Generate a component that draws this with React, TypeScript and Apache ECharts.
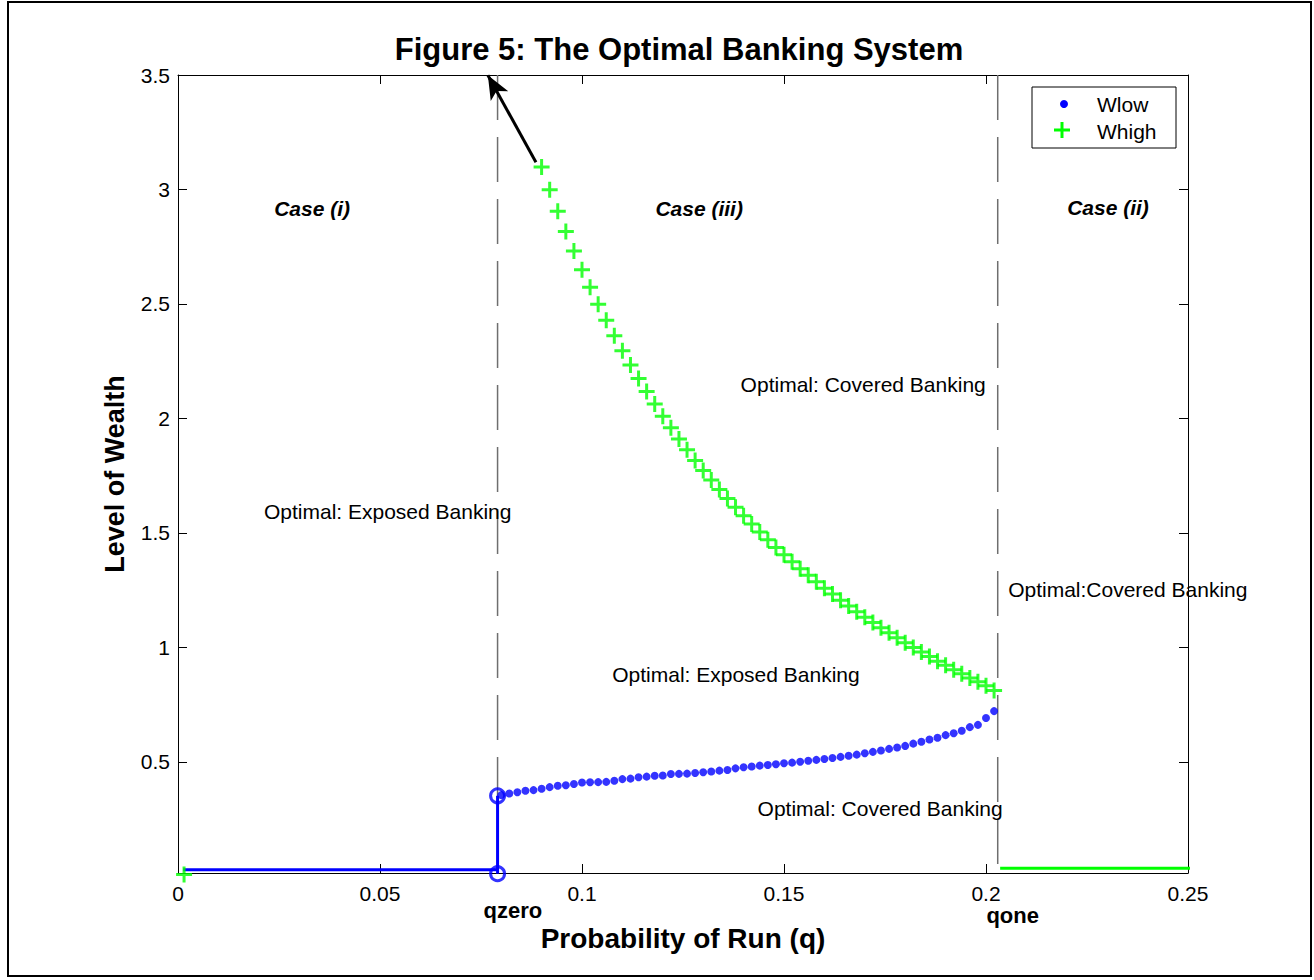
import React, { useEffect, useRef } from "react";
import * as echarts from "echarts";

const FONT = '"Liberation Sans", Arial, Helvetica, sans-serif';

// Probability of a run (q) on which each wealth level was solved
const qLow = [
  0.08, 0.082, 0.084, 0.086, 0.088, 0.09, 0.092, 0.094, 0.096, 0.098,
  0.1, 0.102, 0.104, 0.106, 0.108, 0.11, 0.112, 0.114, 0.116, 0.118,
  0.12, 0.122, 0.124, 0.126, 0.128, 0.13, 0.132, 0.134, 0.136, 0.138,
  0.14, 0.142, 0.144, 0.146, 0.148, 0.15, 0.152, 0.154, 0.156, 0.158,
  0.16, 0.162, 0.164, 0.166, 0.168, 0.17, 0.172, 0.174, 0.176, 0.178,
  0.18, 0.182, 0.184, 0.186, 0.188, 0.19, 0.192, 0.194, 0.196, 0.198,
  0.2, 0.202,
];
const wLow = [
  0.355, 0.362, 0.368, 0.374, 0.377, 0.383, 0.39, 0.396, 0.398, 0.404,
  0.41, 0.411, 0.412, 0.413, 0.418, 0.425, 0.427, 0.433, 0.436, 0.44,
  0.441, 0.447, 0.448, 0.449, 0.452, 0.455, 0.458, 0.462, 0.465, 0.472,
  0.477, 0.48, 0.484, 0.487, 0.49, 0.494, 0.497, 0.501, 0.505, 0.509,
  0.513, 0.517, 0.522, 0.527, 0.532, 0.538, 0.544, 0.55, 0.557, 0.563,
  0.57, 0.58, 0.588, 0.598, 0.606, 0.617, 0.625, 0.636, 0.652, 0.662,
  0.692, 0.722,
];

const qHigh = [
  0.0015,
  0.09, 0.092, 0.094, 0.096, 0.098, 0.1, 0.102, 0.104, 0.106, 0.108,
  0.11, 0.112, 0.114, 0.116, 0.118, 0.12, 0.122, 0.124, 0.126, 0.128,
  0.13, 0.132, 0.134, 0.136, 0.138, 0.14, 0.142, 0.144, 0.146, 0.148,
  0.15, 0.152, 0.154, 0.156, 0.158, 0.16, 0.162, 0.164, 0.166, 0.168,
  0.17, 0.172, 0.174, 0.176, 0.178, 0.18, 0.182, 0.184, 0.186, 0.188,
  0.19, 0.192, 0.194, 0.196, 0.198, 0.2, 0.202,
];
const wHigh = [
  0.008,
  3.098, 2.999, 2.905, 2.816, 2.731, 2.65, 2.573, 2.499, 2.429, 2.361,
  2.296, 2.234, 2.175, 2.118, 2.063, 2.01, 1.959, 1.91, 1.863, 1.817,
  1.773, 1.731, 1.69, 1.65, 1.612, 1.575, 1.539, 1.504, 1.47, 1.437,
  1.405, 1.374, 1.344, 1.315, 1.287, 1.259, 1.233, 1.206, 1.181, 1.156,
  1.132, 1.109, 1.086, 1.064, 1.042, 1.021, 1.0, 0.98, 0.96, 0.94,
  0.922, 0.903, 0.885, 0.867, 0.85, 0.833, 0.812,
];

// Thresholds and corner solutions
const qZero = 0.0791;
const qOne = 0.2029;
const lowFloor = [0.0013, 0.029]; // start of Wlow floor
const lowJump = [0.012, 0.352]; // Wlow at qzero: bottom and top
const highFloor = [0.2035, 0.2517, 0.036]; // q from, q to, level

// Arrow: Whigh continues above the plotted range
const arrowFrom = [0.0886, 3.119];
const arrowHead = [0.0767, 3.499];

const xTicks = [0, 0.05, 0.1, 0.15, 0.2, 0.25];
const yTicks = [0.5, 1, 1.5, 2, 2.5, 3, 3.5];

const notes = [
  { text: "Case (i)", at: [0.0332, 2.917], kind: "case" },
  { text: "Case (iii)", at: [0.129, 2.917], kind: "case" },
  { text: "Case (ii)", at: [0.2302, 2.921], kind: "case" },
  { text: "Optimal: Covered Banking", at: [0.1696, 2.149], kind: "plain" },
  { text: "Optimal: Exposed Banking", at: [0.0519, 1.595], kind: "plain" },
  { text: "Optimal:Covered Banking", at: [0.2351, 1.255], kind: "plain" },
  { text: "Optimal: Exposed Banking", at: [0.1381, 0.884], kind: "plain" },
  { text: "Optimal: Covered Banking", at: [0.1738, 0.295], kind: "plain" },
  { text: "qzero", at: [0.0829, -0.15], kind: "mark" },
  { text: "qone", at: [0.2066, -0.172], kind: "mark" },
];

const PLUS = "path://M6.5,0H9.5V6.5H16V9.5H9.5V16H6.5V9.5H0V6.5H6.5Z";
const BLUE = "#0000ff";
const GREEN = "#00ff00";

const fmt = (v: number) => String(Number(v.toFixed(2)));

export default function App() {
  const ref = useRef<HTMLDivElement>(null);

  useEffect(() => {
    if (!ref.current) return;
    const chart = echarts.init(ref.current, null, { renderer: "svg" });

    const noteStyle = (kind: string) =>
      kind === "case"
        ? { fontSize: 21, fontWeight: "bold", fontStyle: "italic" }
        : kind === "mark"
        ? { fontSize: 22, fontWeight: "bold", fontStyle: "normal" }
        : { fontSize: 21, fontWeight: "normal", fontStyle: "normal" };

    const tickAxis = {
      axisLine: { show: true, onZero: false, lineStyle: { color: "#000", width: 1 } },
      axisTick: { show: true, inside: true, length: 9, lineStyle: { color: "#000" } },
      splitLine: { show: false },
    };

    const boundary = (q: number) => ({
      type: "line",
      data: [
        [q, 3.5],
        [q, -0.02],
      ],
      symbol: "none",
      clip: false,
      silent: true,
      lineStyle: { color: "#6e6e6e", width: 1.5, type: [45, 17] },
      z: 1,
    });

    const option: any = {
      animation: false,
      backgroundColor: "#fff",
      textStyle: { fontFamily: FONT, color: "#000" },
      title: {
        text: "Figure 5: The Optimal Banking System",
        left: 679,
        top: 34,
        padding: 0,
        textAlign: "center",
        textStyle: { fontFamily: FONT, fontSize: 31, fontWeight: "bold", color: "#000" },
      },
      grid: { left: 178, top: 75, width: 1010, height: 798, containLabel: false },
      xAxis: [
        {
          type: "value",
          position: "bottom",
          min: 0,
          max: 0.25,
          interval: 0.05,
          ...tickAxis,
          axisLabel: {
            show: true,
            margin: 10,
            fontSize: 21,
            color: "#000",
            fontFamily: FONT,
            formatter: (v: number) => fmt(v),
          },
          name: "Probability of Run (q)",
          nameLocation: "middle",
          nameGap: 51,
          nameTextStyle: { fontFamily: FONT, fontSize: 28, fontWeight: "bold", color: "#000" },
        },
        {
          type: "value",
          position: "top",
          min: 0,
          max: 0.25,
          interval: 0.05,
          ...tickAxis,
          axisLabel: { show: false },
        },
      ],
      yAxis: [
        {
          type: "value",
          position: "left",
          min: 0.015,
          max: 3.5,
          ...tickAxis,
          axisTick: { ...tickAxis.axisTick, customValues: yTicks },
          axisLabel: {
            show: true,
            customValues: yTicks,
            margin: 8,
            fontSize: 21,
            color: "#000",
            fontFamily: FONT,
            formatter: (v: number) => fmt(v),
          },
          name: "Level of Wealth",
          nameLocation: "middle",
          nameGap: 50,
          nameTextStyle: { fontFamily: FONT, fontSize: 27, fontWeight: "bold", color: "#000" },
        },
        {
          type: "value",
          position: "right",
          min: 0.015,
          max: 3.5,
          ...tickAxis,
          axisTick: { ...tickAxis.axisTick, customValues: yTicks },
          axisLabel: { show: false },
        },
      ],
      series: [
        // regime boundaries
        boundary(qZero),
        boundary(qOne),
        // Wlow floor and jump at qzero
        {
          type: "line",
          data: [
            [lowFloor[0], lowFloor[1]],
            [qZero, lowFloor[1]],
          ],
          symbol: "none",
          clip: false,
          lineStyle: { color: BLUE, width: 3 },
          z: 3,
        },
        {
          type: "line",
          data: [
            [qZero, lowJump[0]],
            [qZero, lowJump[1]],
          ],
          symbol: "none",
          clip: false,
          lineStyle: { color: BLUE, width: 3 },
          z: 3,
        },
        {
          type: "scatter",
          data: [
            [qZero, lowJump[1]],
            [qZero, lowJump[0]],
          ],
          symbol: "circle",
          symbolSize: 14,
          clip: false,
          itemStyle: { color: "rgba(0,0,0,0)", borderColor: BLUE, borderWidth: 3 },
          z: 4,
        },
        // Whigh floor beyond qone
        {
          type: "line",
          data: [
            [highFloor[0], highFloor[2]],
            [highFloor[1], highFloor[2]],
          ],
          symbol: "none",
          clip: false,
          lineStyle: { color: GREEN, width: 3 },
          z: 3,
        },
        {
          name: "Wlow",
          type: "scatter",
          data: qLow.map((q, i) => [q, wLow[i]]),
          symbol: "circle",
          symbolSize: 8,
          itemStyle: { color: BLUE },
          z: 5,
        },
        {
          name: "Whigh",
          type: "scatter",
          data: qHigh.map((q, i) => [q, wHigh[i]]),
          symbol: PLUS,
          symbolSize: 16,
          clip: false,
          itemStyle: { color: GREEN },
          z: 5,
        },
        // arrow pointing past the top of the axes
        {
          type: "line",
          clip: false,
          silent: true,
          showSymbol: true,
          lineStyle: { color: "#000", width: 3 },
          itemStyle: { color: "#000", borderWidth: 0 },
          data: [
            { value: arrowFrom, symbol: "none" },
            { value: arrowHead, symbol: "arrow", symbolSize: [15, 24], symbolRotate: 29 },
          ],
          z: 7,
        },
        // text annotations
        {
          type: "scatter",
          symbolSize: 0,
          clip: false,
          silent: true,
          itemStyle: { color: "#000", opacity: 0 },
          z: 6,
          data: notes.map((n) => ({
            name: n.text,
            value: n.at,
            label: {
              show: true,
              position: "inside",
              formatter: n.text,
              color: "#000",
              opacity: 1,
              textBorderWidth: 0,
              fontFamily: FONT,
              ...noteStyle(n.kind),
            },
          })),
        },
      ],
      graphic: [
        {
          type: "rect",
          shape: { x: 8, y: 2, width: 1303, height: 974 },
          style: { fill: "none", stroke: "#000", lineWidth: 2 },
          silent: true,
          z: 0,
        },
        {
          type: "group",
          z: 100,
          children: [
            {
              type: "rect",
              shape: { x: 1032, y: 87, width: 144, height: 61 },
              style: { fill: "#fff", stroke: "#000", lineWidth: 1 },
            },
            {
              type: "circle",
              shape: { cx: 1064, cy: 104, r: 4 },
              style: { fill: BLUE },
            },
            {
              type: "rect",
              shape: { x: 1054, y: 128.5, width: 16, height: 3 },
              style: { fill: GREEN },
            },
            {
              type: "rect",
              shape: { x: 1060.5, y: 122, width: 3, height: 16 },
              style: { fill: GREEN },
            },
            {
              type: "text",
              style: {
                x: 1097,
                y: 104,
                text: "Wlow",
                fontFamily: FONT,
                fontSize: 21,
                fill: "#000",
                verticalAlign: "middle",
              },
            },
            {
              type: "text",
              style: {
                x: 1097,
                y: 131,
                text: "Whigh",
                fontFamily: FONT,
                fontSize: 21,
                fill: "#000",
                verticalAlign: "middle",
              },
            },
          ],
        },
      ],
    };

    chart.setOption(option);
    return () => chart.dispose();
  }, []);

  return (
    <div
      ref={ref}
      style={{ position: "absolute", left: 0, top: 0, width: 1314, height: 980, background: "#fff" }}
    />
  );
}
